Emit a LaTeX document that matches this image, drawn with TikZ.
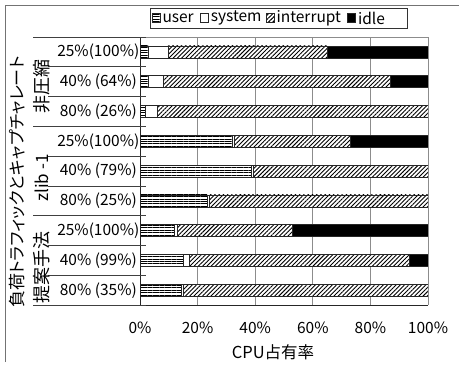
\documentclass[tikz,border=0pt]{standalone}
\usepackage{fontspec}
\setmainfont{Noto Sans CJK JP}[RawFeature=+palt]
\usetikzlibrary{patterns.meta,positioning}

\tikzset{
  bar/.style={draw=black!85, line width=0.6pt},
  userbar/.style={bar, preaction={fill=white}, pattern={Lines[angle=0,distance=2.4pt,line width=0.9pt]}},
  sysbar/.style={bar, fill=white},
  intbar/.style={bar, preaction={fill=white}, pattern={Lines[angle=45,distance=3pt,line width=0.9pt]}},
  idlebar/.style={bar, fill=black},
  gridline/.style={draw=black!45, line width=0.8pt},
  sepline/.style={draw=black!75, line width=0.7pt},
  rowlabel/.style={anchor=east, inner sep=0pt, font=\fontsize{15.5}{15.5}\selectfont},
  ticklabel/.style={inner sep=0pt, font=\fontsize{15.5}{15.5}\selectfont},
  legendkey/.style={minimum width=8pt, minimum height=9pt, inner sep=0pt, line width=0.6pt},
  legendtext/.style={inner sep=0pt, font=\fontsize{15.5}{15.5}\selectfont}
}

\begin{document}
\begin{tikzpicture}[x=1pt, y=-1pt]
\useasboundingbox (0,0) rectangle (459,367);
\draw[black!55, line width=1pt] (5,362) -- (5,5) -- (459,5);

% grid
\foreach \g in {1,...,5}
  \draw[gridline] (140+57.6*\g,37) -- (140+57.6*\g,305);
\draw[gridline] (140,37) -- (428,37);

% bars
\foreach \r/\u/\s/\i/\pa/\pb in {
    1/2.8/9.7/65/25/100, 2/2.8/8/87/40/64, 3/2/6/100/80/26,
    4/32/32.8/73/25/100, 5/38.6/39.3/100/40/79, 6/23.3/24/100/80/25,
    7/12/12.8/53/25/100, 8/15/17/93.5/40/99, 9/14.5/15/100/80/35}{
  \pgfmathsetmacro\yc{37+29.8*(\r-0.5)}
  \begin{scope}[shift={(140,\yc)}, x=2.88pt]
    \draw[idlebar] (\i,-6) rectangle (100,6);
    \draw[intbar] (\s,-6) rectangle (\i,6);
    \draw[sysbar] (\u,-6) rectangle (\s,6);
    \draw[userbar] (0,-6) rectangle (\u,6);
  \end{scope}
  \node[rowlabel] (row\r) at (137,\yc) {\makebox[77pt]{\pa\%\hfill(\pb\%)}};
}

% axes
\draw[black!85, line width=0.8pt] (140,37) -- (140,305) -- (428,305);
\draw[gridline] (428,37) -- (428,305);

% row separators
\foreach \s in {37,126.4,215.8,305}
  \draw[sepline] (33,\s) -- (146,\s);
\foreach \s in {66.8,96.6,156.2,186,245.6,275.4}
  \draw[sepline] (48,\s) -- (146,\s);

% group labels
\node[rotate=90, inner sep=0pt, font=\fontsize{18}{18}\selectfont] (grpa) at (42,86) {非圧縮};
\node[rotate=90, inner sep=0pt, font=\fontsize{17}{17}\selectfont] (grpb) at (42,178) {zlib -1};
\node[rotate=90, inner sep=0pt, font=\fontsize{18}{18}\selectfont] (grpc) at (42,267) {提案手法};
\node[rotate=90, inner sep=0pt, font=\fontsize{17}{17}\selectfont] (ytitle) at (17,182) {負荷トラフィックとキャプチャレート};

% x axis
\foreach \p [count=\k from 0] in {0,20,40,60,80,100}
  \node[ticklabel] (tick\k) at (140+57.6*\k,328) {\p\%};
\node[inner sep=0pt, font=\fontsize{16.5}{16.5}\selectfont] (xtitle) at (273,352) {CPU占有率};

% legend
\draw[black!80, line width=0.7pt] (150,8) rectangle (407,28);
\node[legendkey, userbar] (kuser) at (156,18) {};
\node[legendtext, right=2pt of kuser] (tuser) {user};
\node[legendkey, sysbar, right=6pt of tuser] (ksys) {};
\node[legendtext, right=2pt of ksys] (tsys) {system};
\node[legendkey, intbar, right=4pt of tsys] (kint) {};
\node[legendtext, right=2pt of kint] (tint) {interrupt};
\node[legendkey, idlebar, right=6pt of tint] (kidle) {};
\node[legendtext, right=2pt of kidle] (tidle) {idle};
\end{tikzpicture}
\end{document}
